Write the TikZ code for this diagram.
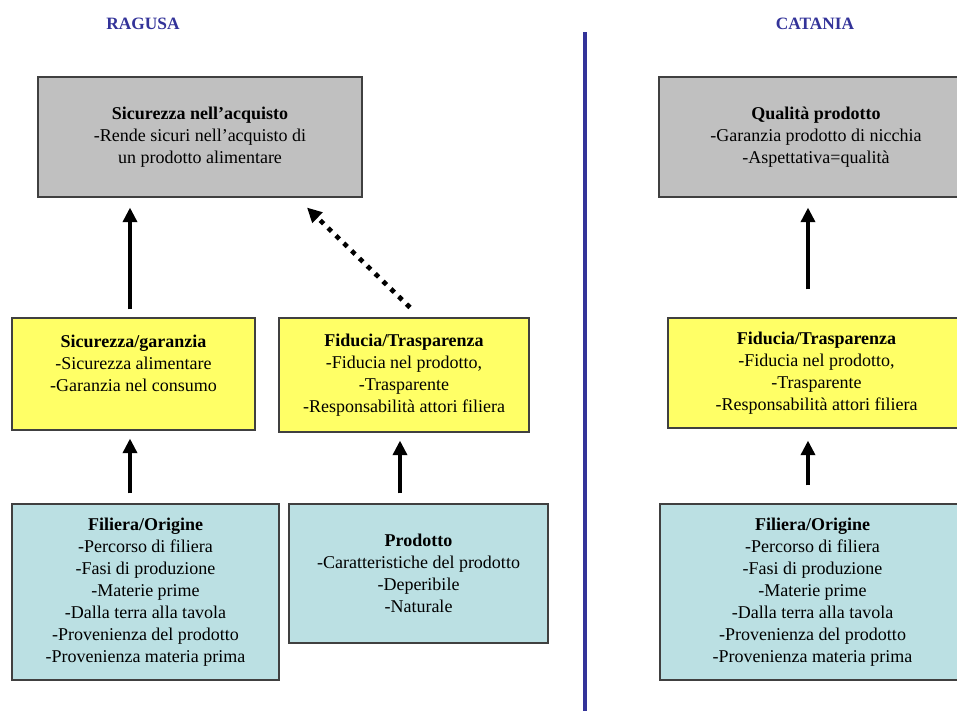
\documentclass[tikz,border=0pt]{standalone}
\usepackage{fontspec}
\setmainfont{Liberation Serif}
\usetikzlibrary{arrows.meta}
\definecolor{boxgray}{HTML}{C0C0C0}
\definecolor{boxyellow}{HTML}{FFFF66}
\definecolor{boxcyan}{HTML}{BBE0E3}
\definecolor{titleblue}{HTML}{333399}
\definecolor{edgegray}{HTML}{404040}
\begin{document}
\begin{tikzpicture}[x=0.75pt,y=-0.75pt,
  box/.style={draw=edgegray, line width=0.8pt, align=center, inner sep=0pt,
    font=\fontsize{13.5}{16.5}\selectfont},
  graybox/.style={box, fill=boxgray},
  yellowbox/.style={box, fill=boxyellow},
  cyanbox/.style={box, fill=boxcyan},
  citytitle/.style={font=\fontsize{13}{15}\selectfont\bfseries, text=titleblue, inner sep=0pt},
  arr/.style={line width=3.5pt, -{Triangle[length=11pt,width=10.5pt]}},
  dotarr/.style={arr, dash pattern=on 3.6pt off 4.6pt}
]
\useasboundingbox (0,0) rectangle (957,711);

% titles and divider
\node[citytitle] (tRG) at (143,24) {RAGUSA};
\node[citytitle] (tCT) at (815,24) {CATANIA};
\coordinate (divtop) at (585,32);
\coordinate (divbot) at (585,711);
\draw[titleblue, line width=3pt] (divtop) -- (divbot);

% Ragusa boxes
\node[graybox, minimum width=243pt, minimum height=90pt] (gr) at (200,137)
  {\textbf{Sicurezza nell'acquisto}\\-Rende sicuri nell'acquisto di\\un prodotto alimentare};
\node[yellowbox, minimum width=182.25pt, minimum height=84pt] (yl) at (133.5,374)
  {\textbf{Sicurezza/garanzia}\\-Sicurezza alimentare\\-Garanzia nel consumo\\\mbox{}};
\node[yellowbox, minimum width=187.5pt, minimum height=85.5pt] (yr) at (404,375)
  {\textbf{Fiducia/Trasparenza}\\-Fiducia nel prodotto,\\-Trasparente\\-Responsabilità attori filiera};
\node[cyanbox, minimum width=200.25pt, minimum height=132pt] (cl) at (145.5,592)
  {\textbf{Filiera/Origine}\\-Percorso di filiera\\-Fasi di produzione\\-Materie prime\\-Dalla terra alla tavola\\-Provenienza del prodotto\\-Provenienza materia prima};
\node[cyanbox, minimum width=194.25pt, minimum height=104.25pt] (cr) at (418.5,573.5)
  {\textbf{Prodotto}\\-Caratteristiche del prodotto\\-Deperibile\\-Naturale};

% Catania boxes (running past the right edge)
\node[graybox, minimum width=235.5pt, minimum height=90pt] (gc) at (816,137)
  {\textbf{Qualità prodotto}\\-Garanzia prodotto di nicchia\\-Aspettativa=qualità};
\node[yellowbox, minimum width=222.75pt, minimum height=82.5pt] (yc) at (816.5,373)
  {\textbf{Fiducia/Trasparenza}\\-Fiducia nel prodotto,\\-Trasparente\\-Responsabilità attori filiera};
\node[cyanbox, minimum width=228.75pt, minimum height=132pt] (cc) at (812.5,592)
  {\textbf{Filiera/Origine}\\-Percorso di filiera\\-Fasi di produzione\\-Materie prime\\-Dalla terra alla tavola\\-Provenienza del prodotto\\-Provenienza materia prima};

% arrows Ragusa
\draw[arr] ([shift={(-3.5,-8)}]yl.north) -- ([shift={(-70,10)}]gr.south);
\draw[dotarr] ([shift={(6,-10)}]yr.north) -- ([shift={(107,10)}]gr.south);
\draw[arr] ([shift={(-15.5,-10)}]cl.north) -- ([shift={(-3.5,8)}]yl.south);
\draw[arr] ([shift={(-18.5,-10)}]cr.north) -- ([shift={(-4,8)}]yr.south);

% arrows Catania
\draw[arr] ([shift={(-8.5,-28)}]yc.north) -- ([shift={(-8,10)}]gc.south);
\draw[arr] ([shift={(-4.5,-18)}]cc.north) -- ([shift={(-8.5,12)}]yc.south);
\end{tikzpicture}
\end{document}
